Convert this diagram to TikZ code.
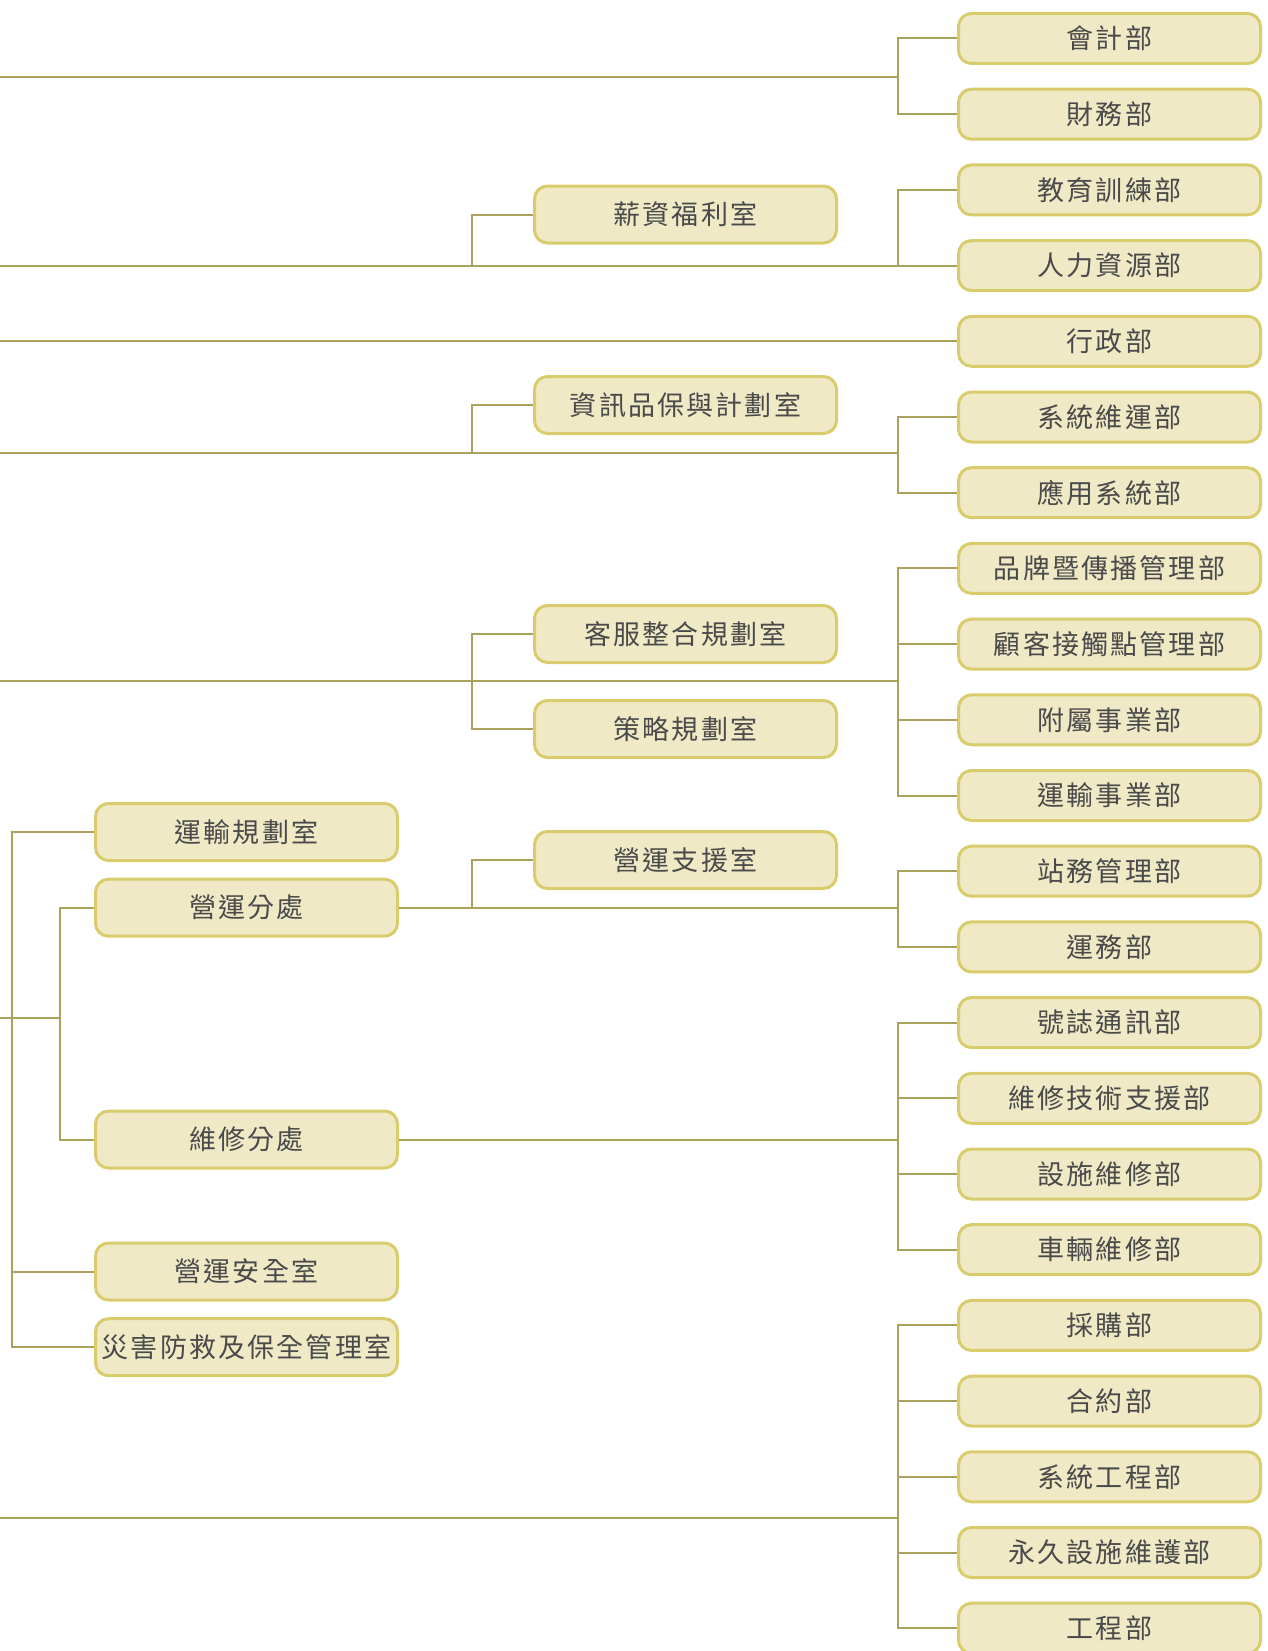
\documentclass[tikz,border=0pt]{standalone}
\usepackage{fontspec}
\newfontfamily\tcfont{Noto Sans CJK TC}[LetterSpace=8]
\usetikzlibrary{positioning}
\definecolor{boxfill}{RGB}{239,233,198}
\definecolor{boxdraw}{RGB}{216,204,108}
\definecolor{linkcol}{RGB}{170,162,90}
\definecolor{textcol}{RGB}{74,74,74}
\tikzset{
  dept/.style={
    rectangle,
    rounded corners=13pt,
    fill=boxfill,
    draw=boxdraw, line width=3pt,
    minimum width=302pt,
    minimum height=50pt,
    inner sep=0pt,
    text=textcol,
    font=\tcfont\fontsize{27}{30}\selectfont},
  office/.style={dept, minimum height=57pt},
  link/.style={draw=linkcol, line width=2pt},
}

\begin{document}
\begin{tikzpicture}
[x=1pt, y=-1pt, node distance=75.7pt]
    \useasboundingbox (0,0) rectangle (1268,1651);

    % right column
    \node [dept] (kuaiji) at (1109.5,38.5) {會計部};
    \node [dept, below of=kuaiji] (caiwu) {財務部};
    \node [dept, below of=caiwu] (jiaoyu) {教育訓練部};
    \node [dept, below of=jiaoyu] (renli) {人力資源部};
    \node [dept, below of=renli] (xingzheng) {行政部};
    \node [dept, below of=xingzheng] (xitongwy) {系統維運部};
    \node [dept, below of=xitongwy] (yingyong) {應用系統部};
    \node [dept, below of=yingyong] (pinpai) {品牌暨傳播管理部};
    \node [dept, below of=pinpai] (guke) {顧客接觸點管理部};
    \node [dept, below of=guke] (fushu) {附屬事業部};
    \node [dept, below of=fushu] (yunshu) {運輸事業部};
    \node [dept, below of=yunshu] (zhanwu) {站務管理部};
    \node [dept, below of=zhanwu] (yunwu) {運務部};
    \node [dept, below of=yunwu] (haozhi) {號誌通訊部};
    \node [dept, below of=haozhi] (weixiujs) {維修技術支援部};
    \node [dept, below of=weixiujs] (sheshi) {設施維修部};
    \node [dept, below of=sheshi] (cheliang) {車輛維修部};
    \node [dept, below of=cheliang] (caigou) {採購部};
    \node [dept, below of=caigou] (heyue) {合約部};
    \node [dept, below of=heyue] (xitonggc) {系統工程部};
    \node [dept, below of=xitonggc] (yongjiu) {永久設施維護部};
    \node [dept, below of=yongjiu] (gongcheng) {工程部};

    % middle column
    \node [office] (xinzi) at (685.5,214.5) {薪資福利室};
    \node [office] (zixun) at (685.5,405) {資訊品保與計劃室};
    \node [office] (kefu) at (685.5,634) {客服整合規劃室};
    \node [office, below of=kefu, node distance=95pt] (celue) {策略規劃室};
    \node [office] (yingyunzy) at (685.5,860) {營運支援室};

    % left column
    \node [office] (yunshugh) at (246.5,832) {運輸規劃室};
    \node [office, below of=yunshugh] (yingyunfc) {營運分處};
    \node [office] (weixiufc) at (246.5,1139.5) {維修分處};
    \node [office] (yingyunaq) at (246.5,1271.5) {營運安全室};
    \node [office, below of=yingyunaq] (zaihai) {災害防救及保全管理室};

    \coordinate (edge) at (0,0);
    \coordinate (rs) at (898,0);
    \coordinate (ms) at (472,0);
    \coordinate (ls) at (12,0);
    \coordinate (is) at (60,0);
    \coordinate (in1) at (0,77);
    \coordinate (in4) at (0,453);
    \coordinate (in5) at (0,681);
    \coordinate (in6) at (0,1018);
    \coordinate (in7) at (0,1518);

    \draw[link] (in1) -- (in1 -| rs);
    \draw[link] (kuaiji.west) -| (rs |- caiwu.west) -- (caiwu.west);

    \draw[link] (edge |- renli.west) -- (renli.west);
    \draw[link] (jiaoyu.west) -| (rs |- renli.west);
    \draw[link] (xinzi.west) -| (ms |- renli.west);

    \draw[link] (edge |- xingzheng.west) -- (xingzheng.west);

    \draw[link] (in4) -- (in4 -| rs);
    \draw[link] (xitongwy.west) -| (rs |- yingyong.west) -- (yingyong.west);
    \draw[link] (zixun.west) -| (ms |- in4);

    \draw[link] (in5) -- (in5 -| rs);
    \draw[link] (pinpai.west) -| (rs |- yunshu.west) -- (yunshu.west);
    \draw[link] (guke.west) -- (guke.west -| rs);
    \draw[link] (fushu.west) -- (fushu.west -| rs);
    \draw[link] (kefu.west) -| (ms |- celue.west) -- (celue.west);

    \draw[link] (yingyunfc.east) -- (yingyunfc.east -| rs);
    \draw[link] (zhanwu.west) -| (rs |- yunwu.west) -- (yunwu.west);
    \draw[link] (yingyunzy.west) -| (ms |- yingyunfc.east);

    \draw[link] (weixiufc.east) -- (weixiufc.east -| rs);
    \draw[link] (haozhi.west) -| (rs |- cheliang.west) -- (cheliang.west);
    \draw[link] (weixiujs.west) -- (weixiujs.west -| rs);
    \draw[link] (sheshi.west) -- (sheshi.west -| rs);

    \draw[link] (yunshugh.west) -| (ls |- zaihai.west) -- (zaihai.west);
    \draw[link] (yingyunaq.west) -- (yingyunaq.west -| ls);
    \draw[link] (yingyunfc.west) -| (is |- weixiufc.west) -- (weixiufc.west);
    \draw[link] (in6) -- (in6 -| is);

    \draw[link] (in7) -- (in7 -| rs);
    \draw[link] (caigou.west) -| (rs |- gongcheng.west) -- (gongcheng.west);
    \draw[link] (heyue.west) -- (heyue.west -| rs);
    \draw[link] (xitonggc.west) -- (xitonggc.west -| rs);
    \draw[link] (yongjiu.west) -- (yongjiu.west -| rs);

\end{tikzpicture}
\end{document}
